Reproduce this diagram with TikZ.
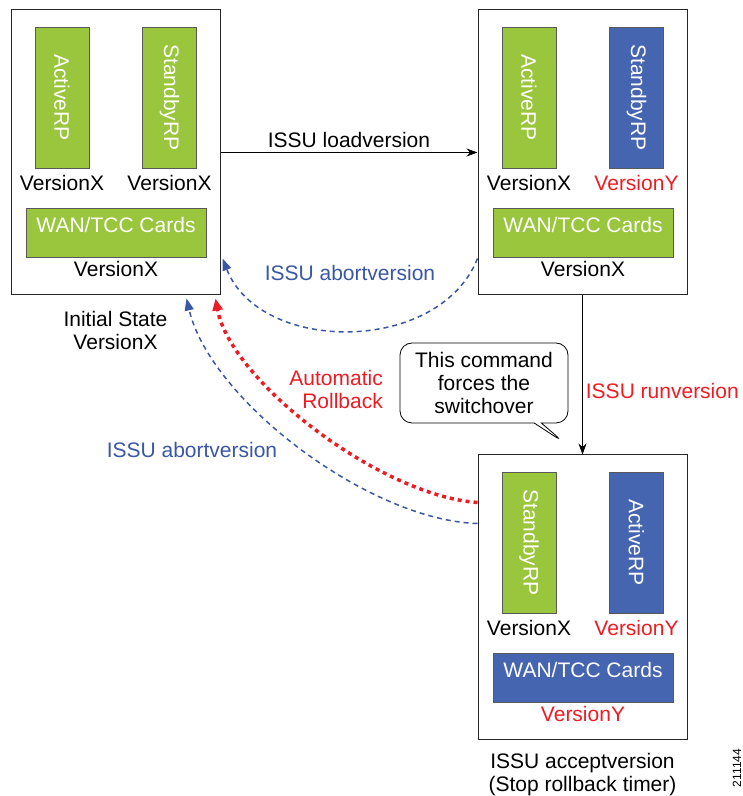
\documentclass[tikz,border=0pt]{standalone}
\usepackage{fontspec}
\setmainfont{Liberation Sans}
\usetikzlibrary{positioning, calc, arrows.meta, shapes.callouts}

\definecolor{rpgreen}{RGB}{153,198,60}
\definecolor{rpblue}{RGB}{69,101,176}
\definecolor{vred}{RGB}{237,28,36}
\definecolor{abortblue}{RGB}{58,86,166}

\begin{document}
\begin{tikzpicture}[x=1pt, y=1pt, font=\fontsize{21}{23}\selectfont]
	\tikzstyle{frame}=[draw=black!85, line width=1pt, minimum width=209pt, minimum height=285pt, inner sep=0pt]
	\tikzstyle{card}=[draw=black!65, line width=0.8pt, text=white, minimum width=54pt, minimum height=141pt, inner sep=0pt]
	\tikzstyle{cards}=[draw=black!65, line width=0.8pt, text=white, minimum width=180pt, minimum height=49pt, inner sep=0pt, text depth=15pt]
	\tikzstyle{ver}=[inner sep=3pt]
	\tikzstyle{load}=[draw=black, line width=0.8pt, -{Stealth[length=11pt,width=8pt]}]
	\tikzstyle{abort}=[draw=abortblue, line width=1.5pt, dash pattern=on 5pt off 4pt, -{Triangle[length=12pt,width=9pt]}]
	\tikzstyle{rollback}=[draw=vred, line width=3.5pt, dash pattern=on 4pt off 4pt, -{Triangle[length=12pt,width=10pt]}]
	\tikzstyle{note}=[rectangle callout, draw=black, line width=0.8pt, fill=white, rounded corners=12pt, minimum width=168pt, minimum height=80pt, align=center, inner sep=0pt]

	\useasboundingbox (0,0) rectangle (743,796);

	% the three states
	\node[frame] (initial) at (115.5,643.5) {};
	\node[frame, right=257pt of initial] (loaded) {};
	\node[frame, below=159pt of loaded] (switched) {};

	% initial state
	\node[card, fill=rpgreen] (active1) at ($(initial)+(-53.5,55)$) {\rotatebox{-90}{ActiveRP}};
	\node[card, fill=rpgreen] (standby1) at ($(initial)+(54,55)$) {\rotatebox{-90}{StandbyRP}};
	\node[cards, fill=rpgreen] (wan1) at ($(initial)+(0.5,-80)$) {WAN/TCC Cards};
	\node[ver, below=3.5pt of active1] (verA1) {VersionX};
	\node[ver, below=3.5pt of standby1] (verS1) {VersionX};
	\node[ver, below=0.5pt of wan1] (verW1) {VersionX};
	\node[ver, below=12.5pt of initial, align=center] (initcap) {Initial State\\VersionX};

	% after loadversion
	\node[card, fill=rpgreen] (active2) at ($(loaded)+(-53.5,55)$) {\rotatebox{-90}{ActiveRP}};
	\node[card, fill=rpblue] (standby2) at ($(loaded)+(54,55)$) {\rotatebox{-90}{StandbyRP}};
	\node[cards, fill=rpgreen] (wan2) at ($(loaded)+(0.5,-80)$) {WAN/TCC Cards};
	\node[ver, below=3.5pt of active2] (verA2) {VersionX};
	\node[ver, below=3.5pt of standby2, text=vred] (verS2) {VersionY};
	\node[ver, below=0.5pt of wan2] (verW2) {VersionX};

	% after runversion
	\node[card, fill=rpgreen] (standby3) at ($(switched)+(-53.5,55)$) {\rotatebox{-90}{StandbyRP}};
	\node[card, fill=rpblue] (active3) at ($(switched)+(54,55)$) {\rotatebox{-90}{ActiveRP}};
	\node[cards, fill=rpblue] (wan3) at ($(switched)+(0.5,-80)$) {WAN/TCC Cards};
	\node[ver, below=3.5pt of standby3] (verS3) {VersionX};
	\node[ver, below=3.5pt of active3, text=vred] (verA3) {VersionY};
	\node[ver, below=0.5pt of wan3, text=vred] (verW3) {VersionY};
	\node[ver, below=9.5pt of switched, align=center] (acceptcap) {ISSU acceptversion\\(Stop rollback timer)};

	% transitions
	\draw[load] (initial.east) -- node[above, inner sep=4.5pt] (loadlbl) {ISSU loadversion} (loaded.west);
	\draw[load] (loaded.south) -- node[pos=0.6, right, text=vred, inner sep=3pt] (runlbl) {ISSU runversion} (switched.north);
	\draw[abort] ($(loaded.south west)+(0,37)$) .. controls +(-38,-96) and +(38,-96) .. ($(initial.south east)+(2,37)$);
	\draw[rollback] ($(switched.west)+(0,95)$) .. controls +(-98,7) and +(15,-82) .. ($(initial.south east)+(-5,-3)$);
	\draw[abort] ($(switched.west)+(0,74)$) .. controls +(-108,3) and +(24,-102) .. ($(initial.south east)+(-34,-3)$);

	\node[text=abortblue] (abortlbl1) at (350,523) {ISSU abortversion};
	\node[text=vred, align=right, anchor=east, inner sep=0pt] (rollbacklbl) at (383,407) {Automatic\\Rollback};
	\node[text=abortblue] (abortlbl2) at (192,346) {ISSU abortversion};

	\node[note, callout absolute pointer={($(switched.north)+(-18.5,12)$)}] (remark) at (484,413) {This command\\forces the\\switchover};

	\node[rotate=90, inner sep=0pt, font=\fontsize{12}{14}\selectfont] (figid) at (737,28) {211144};
\end{tikzpicture}
\end{document}
